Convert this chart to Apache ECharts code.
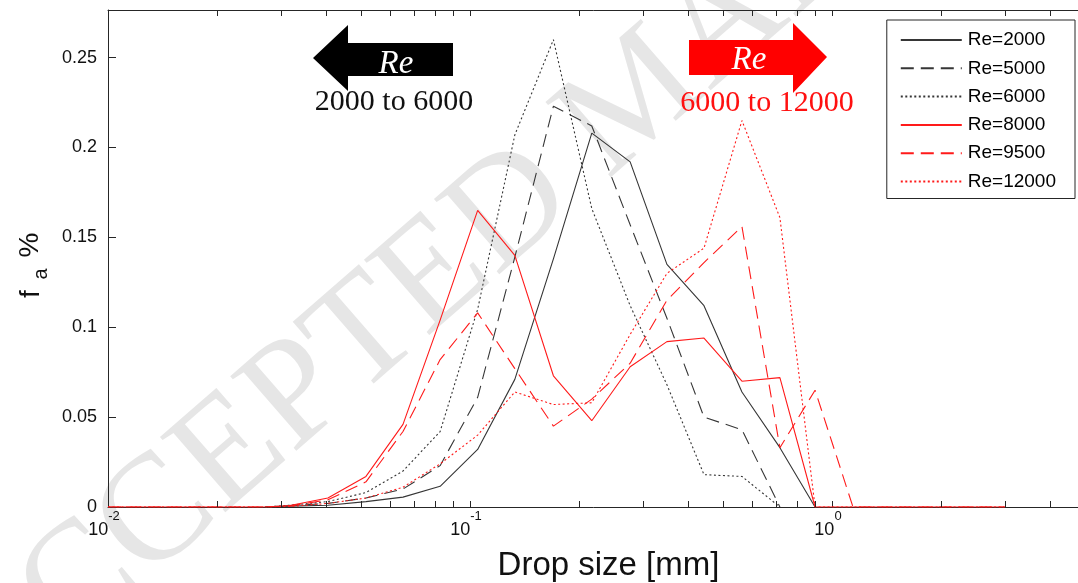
<!DOCTYPE html>
<html>
<head>
<meta charset="utf-8">
<script src="https://cdn.jsdelivr.net/npm/echarts@6/dist/echarts.min.js"></script>
<style>
  html, body { margin: 0; padding: 0; background: #fff; }
  #chart { width: 1078px; height: 583px; }
</style>
</head>
<body>
<div id="chart"></div>
<script>
// Drop-size classes [mm] shared by all distributions
const diameters = [0.0100, 0.0272, 0.0318, 0.0405, 0.0516, 0.0653, 0.0827, 0.105, 0.133, 0.170,
                   0.217, 0.277, 0.350, 0.443, 0.564, 0.718, 0.898, 1.143, 3.000];

// Volume fraction per class (null = class not reported)
const re2000  = [null, 0, 0.0005, 0.001, 0.003, 0.0055, 0.0115, 0.032, 0.071, 0.138,
                 0.208, 0.192, 0.135, 0.112, 0.064, 0.033, 0, null, null];
const re5000  = [null, 0, 0.0008, 0.002, 0.005, 0.010, 0.023, 0.061, 0.139, 0.223,
                 0.212, 0.157, 0.105, 0.050, 0.043, 0, null, null, null];
const re6000  = [null, 0, 0.001, 0.003, 0.008, 0.020, 0.042, 0.110, 0.207, 0.260,
                 0.166, 0.112, 0.068, 0.018, 0.017, 0, null, null, null];
const re8000  = [0, 0, 0.0008, 0.005, 0.017, 0.046, 0.104, 0.165, 0.140, 0.073,
                 0.048, 0.078, 0.092, 0.094, 0.070, 0.072, 0, 0, 0];
const re9500  = [0, 0, 0.0005, 0.004, 0.014, 0.042, 0.082, 0.108, 0.077, 0.045,
                 0.060, 0.080, 0.115, 0.136, 0.156, 0.033, 0.065, 0, 0];
const re12000 = [0, 0, 0.0003, 0.002, 0.005, 0.011, 0.024, 0.040, 0.064, 0.057,
                 0.058, 0.096, 0.130, 0.144, 0.215, 0.161, 0, 0, 0];

const seriesNames = ['Re=2000', 'Re=5000', 'Re=6000', 'Re=8000', 'Re=9500', 'Re=12000'];
const seriesValues = [re2000, re5000, re6000, re8000, re9500, re12000];

// Log-axis minor tick positions
const minorTicks = [0.02, 0.03, 0.04, 0.05, 0.06, 0.07, 0.08, 0.09,
                    0.2, 0.3, 0.4, 0.5, 0.6, 0.7, 0.8, 0.9, 2, 3, 4];

const X_MIN = 0.01, X_MAX = 5;
const Y_MIN = 0, Y_MAX = 0.2765, Y_STEP = 0.05;

const BLACK = '#363636';
const RED = '#ff1a1a';
const AXIS = '#262626';
const SANS = '"Liberation Sans", Arial, sans-serif';
const SERIF = '"Liberation Serif", "Times New Roman", serif';

const styles = [
  { color: BLACK, type: 'solid' },
  { color: BLACK, type: [13, 7] },
  { color: BLACK, type: [2, 2.5] },
  { color: RED,   type: 'solid' },
  { color: RED,   type: [13, 7] },
  { color: RED,   type: [2, 2.5] }
];

const lineSeries = seriesNames.map((name, k) => ({
  name: name,
  type: 'line',
  symbol: 'none',
  silent: true,
  color: styles[k].color,
  lineStyle: { color: styles[k].color, width: 1.1, type: styles[k].type },
  data: diameters
    .map((d, i) => [d, seriesValues[k][i]])
    .filter(p => p[1] !== null),
  z: 3 + k
}));

const minorTickSeries = {
  type: 'custom',
  silent: true,
  data: minorTicks.map(v => [v, 0]),
  encode: { x: 0, y: 1 },
  renderItem: function (params, api) {
    const v = api.value(0);
    const b = api.coord([v, Y_MIN]);
    const t = api.coord([v, Y_MAX]);
    const x = Math.round(b[0]) + 0.5;
    return {
      type: 'group',
      children: [
        { type: 'line', shape: { x1: x, y1: b[1], x2: x, y2: b[1] - 6 }, style: { stroke: AXIS, lineWidth: 1 } },
        { type: 'line', shape: { x1: x, y1: t[1], x2: x, y2: t[1] + 6 }, style: { stroke: AXIS, lineWidth: 1 } }
      ]
    };
  },
  z: 10
};

function powerLabel(v) {
  const lg = Math.log10(v);
  const e = Math.round(lg);
  if (Math.abs(lg - e) > 1e-6) return '';
  return '{b|10}{s|' + e + '}';
}

const chart = echarts.init(document.getElementById('chart'), null, { renderer: 'canvas' });

chart.setOption({
  animation: false,
  backgroundColor: '#ffffff',
  textStyle: { fontFamily: SANS },
  grid: { left: 108, right: -7, top: 10, bottom: 76, containLabel: false, outerBoundsMode: 'none' },
  legend: {
    data: seriesNames,
    orient: 'vertical',
    right: 3,
    top: 20,
    padding: [10, 19, 7, 13],
    itemWidth: 61,
    itemHeight: 20,
    itemGap: 8.3,
    borderColor: AXIS,
    borderWidth: 1,
    backgroundColor: '#ffffff',
    selectedMode: false,
    itemStyle: { color: 'rgba(0,0,0,0)', borderColor: 'rgba(0,0,0,0)', borderWidth: 0, opacity: 0 },
    textStyle: { fontFamily: SANS, fontSize: 19, color: '#000', lineHeight: 20, padding: [0, 0, 0, 1] },
    z: 20
  },
  xAxis: [
    {
      type: 'log',
      logBase: 10,
      min: X_MIN,
      max: X_MAX,
      position: 'bottom',
      name: 'Drop size [mm]',
      nameLocation: 'middle',
      nameGap: 42,
      nameTextStyle: { fontFamily: SANS, fontSize: 33, color: '#111', padding: [0, 0, 0, 24] },
      axisLine: { show: true, lineStyle: { color: AXIS, width: 1 } },
      axisTick: { show: true, inside: true, length: 6, lineStyle: { color: AXIS } },
      splitLine: { show: false },
      axisLabel: {
        margin: 3,
        showMaxLabel: false,
        color: '#111',
        formatter: powerLabel,
        padding: [0, 8, 0, 0],
        rich: {
          b: { fontFamily: SANS, fontSize: 18, lineHeight: 40, color: '#111' },
          s: { fontFamily: SANS, fontSize: 13, lineHeight: 12, verticalAlign: 'top', color: '#111' }
        }
      }
    },
    {
      type: 'log',
      logBase: 10,
      min: X_MIN,
      max: X_MAX,
      position: 'top',
      axisLine: { show: true, lineStyle: { color: AXIS, width: 1 } },
      axisTick: { show: true, inside: true, length: 6, lineStyle: { color: AXIS } },
      axisLabel: { show: false },
      splitLine: { show: false }
    }
  ],
  yAxis: {
    type: 'value',
    min: Y_MIN,
    max: Y_MAX,
    interval: Y_STEP,
    axisLine: { show: true, lineStyle: { color: AXIS, width: 1 } },
    axisTick: { show: true, inside: true, length: 8, lineStyle: { color: AXIS } },
    splitLine: { show: false },
    axisLabel: { margin: 11, fontFamily: SANS, fontSize: 18, color: '#111', showMaxLabel: false }
  },
  graphic: [
    {
      type: 'text',
      x: -40, y: 690,
      rotation: 41 * Math.PI / 180,
      silent: true,
      z: 0,
      style: {
        text: 'ACCEPTED MANUSCRIPT',
        fontFamily: SERIF,
        fontSize: 152,
        fill: '#e6e6e6',
        align: 'left',
        verticalAlign: 'middle'
      }
    },
    {
      // y-axis title: f with subscript a, then %
      type: 'group',
      x: 31, y: 294,
      rotation: Math.PI / 2,
      silent: true,
      children: [
        { type: 'text', x: 0, y: 0, style: { text: 'f', fontFamily: SANS, fontSize: 28, fill: '#111', align: 'center', verticalAlign: 'middle' } },
        { type: 'text', x: 20, y: 10, style: { text: 'a', fontFamily: SANS, fontSize: 20, fill: '#111', align: 'center', verticalAlign: 'middle' } },
        { type: 'text', x: 49, y: -1, style: { text: '%', fontFamily: SANS, fontSize: 28, fill: '#111', align: 'center', verticalAlign: 'middle' } }
      ]
    },
    {
      type: 'polygon',
      silent: true,
      z: 15,
      shape: { points: [[313, 58], [348, 25], [348, 43], [453, 43], [453, 76], [348, 76], [348, 91]] },
      style: { fill: '#000000' }
    },
    {
      type: 'text', x: 396, y: 64, silent: true, z: 16,
      style: { text: 'Re', fontFamily: SERIF, fontStyle: 'italic', fontSize: 33, fill: '#ffffff', align: 'center', verticalAlign: 'middle' }
    },
    {
      type: 'text', x: 394, y: 102, silent: true, z: 16,
      style: { text: '2000 to 6000', fontFamily: SERIF, fontSize: 30, fill: '#111111', align: 'center', verticalAlign: 'middle' }
    },
    {
      type: 'polygon',
      silent: true,
      z: 15,
      shape: { points: [[689, 40], [793, 40], [793, 23], [827, 57], [793, 93], [793, 75], [689, 75]] },
      style: { fill: '#ff0000' }
    },
    {
      type: 'text', x: 749, y: 60, silent: true, z: 16,
      style: { text: 'Re', fontFamily: SERIF, fontStyle: 'italic', fontSize: 33, fill: '#ffffff', align: 'center', verticalAlign: 'middle' }
    },
    {
      type: 'text', x: 767, y: 103, silent: true, z: 16,
      style: { text: '6000 to 12000', fontFamily: SERIF, fontSize: 30, fill: '#ff1010', align: 'center', verticalAlign: 'middle' }
    }
  ],
  series: lineSeries.concat([minorTickSeries])
});
</script>
</body>
</html>
